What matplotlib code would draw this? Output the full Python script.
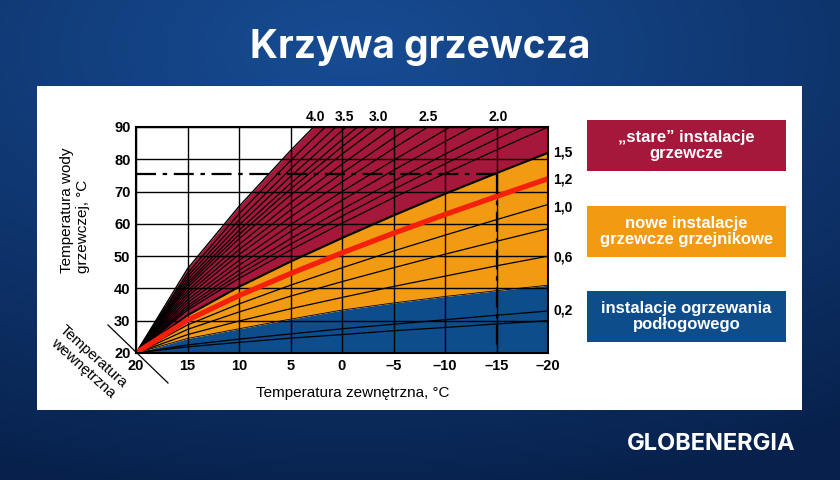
import numpy as np
import matplotlib.pyplot as plt
from matplotlib.patches import Rectangle
from matplotlib.lines import Line2D

plt.rcParams['font.family'] = ['Liberation Sans', 'DejaVu Sans']

# outside temperature (x axis), values of every curve are read at these points
t_out = [20, 15, 10, 5, 0, -5, -10, -15, -20]

# thin curves in the "old installations" zone, steepest (4.0) first
curves_old = [
    [20, 46.1, 65.4, 82.7, 99.0, 114.4, 129.2, 143.6, 157.5],
    [20, 44.7, 63.1, 79.6, 95.0, 109.7, 123.7, 137.4, 150.6],
    [20, 43.7, 61.2, 77.0, 91.8, 105.8, 119.3, 132.3, 145.0],
    [20, 42.7, 59.6, 74.7, 88.9, 102.3, 115.2, 127.8, 139.9],
    [20, 41.8, 58.0, 72.5, 86.1, 99.0, 111.4, 123.4, 135.1],
    [20, 41.1, 56.7, 70.8, 83.9, 96.4, 108.4, 120.0, 131.3],
    [20, 40.3, 55.4, 68.9, 81.6, 93.6, 105.2, 116.3, 127.2],
    [20, 39.3, 53.6, 66.5, 78.5, 90.0, 100.9, 111.6, 121.9],
    [20, 38.4, 52.0, 64.3, 75.7, 86.6, 97.1, 107.2, 117.0],
    [20, 37.5, 50.5, 62.1, 73.0, 83.4, 93.3, 103.0, 112.3],
    [20, 36.5, 48.7, 59.7, 70.0, 79.7, 89.1, 98.2, 107.0],
    [20, 35.6, 47.2, 57.6, 67.3, 76.6, 85.5, 94.1, 102.4],
    [20, 34.7, 45.6, 55.4, 64.5, 73.2, 81.6, 89.6, 97.5],
    [20, 34.0, 44.3, 53.7, 62.4, 70.7, 78.6, 86.3, 93.8],
    [20, 33.3, 43.1, 51.9, 60.2, 68.1, 75.6, 82.9, 90.0],
]
curve_15 = [20, 31.7, 40.5, 48.3, 55.6, 62.6, 69.3, 75.7, 82.0]
curve_12 = [20, 30.2, 37.8, 44.6, 51.0, 57.1, 62.9, 68.5, 74.0]
curves_new = [
    [20, 28.7, 35.2, 41.0, 46.4, 51.6, 56.5, 61.3, 66.0],
    [20, 27.3, 32.7, 37.6, 42.1, 46.4, 50.6, 54.6, 58.5],
    [20, 25.7, 29.9, 33.7, 37.2, 40.6, 43.8, 47.0, 50.0],
]
curve_04 = [20, 24.5, 27.5, 30.5, 33.3, 35.5, 37.5, 39.3, 41.0]
curves_floor = [
    [20, 22.5, 24.3, 25.9, 27.5, 28.9, 30.3, 31.7, 33.0],
    [20, 21.9, 23.3, 24.6, 25.7, 26.9, 27.9, 29.0, 30.0],
]

# design point
t_design = -15
t_supply = 75.5

top_labels = ['4.0', '3.5', '3.0', '2.5', '2.0']
top_label_x = [2.6, -0.2, -3.5, -8.35, -15.2]
right_labels = ['1,5', '1,2', '1,0', '0,6', '0,2']
right_label_y = [82.2, 73.6, 65.2, 49.7, 33.3]

legend_texts = ['\u201estare\u201d instalacje\ngrzewcze',
                'nowe instalacje\ngrzewcze grzejnikowe',
                'instalacje ogrzewania\npod\u0142ogowego']

RED = '#a5173b'
ORANGE = '#f29a12'
BLUE = '#0e4d8c'

fig = plt.figure(figsize=(8.4, 4.8), dpi=100)

# background gradient
bg = fig.add_axes([0, 0, 1, 1], zorder=-2)
yy, xx = np.mgrid[0:1:240j, 0:1:420j]
r = np.sqrt(((xx - 0.42) / 1.1) ** 2 + ((yy - 0.1) / 1.0) ** 2)
c0 = np.array([0.09, 0.30, 0.58])
c1 = np.array([0.03, 0.13, 0.30])
t = np.clip(r / 0.95, 0, 1)[..., None]
bg.imshow(c0 * (1 - t) + c1 * t, extent=[0, 1, 0, 1], aspect='auto', origin='upper')
bg.set_xlim(0, 1)
bg.set_ylim(0, 1)
bg.axis('off')
bg.add_patch(Rectangle((37 / 840, 1 - 410 / 480), 765 / 840, 324 / 480,
                       facecolor='white', edgecolor='none'))

fig.text(0.5, 1 - 47 / 480, 'Krzywa grzewcza', ha='center', va='center',
         color='white', fontsize=28, fontweight='bold', family=['Inter', 'DejaVu Sans'])
fig.text(711 / 840, 1 - 444 / 480, 'GLOBENERGIA', ha='center', va='center',
         color='white', fontsize=17, fontweight='bold', family=['Inter', 'DejaVu Sans'])

ax = fig.add_axes([136 / 840, 1 - 353 / 480, 412 / 840, 226 / 480])
ax.set_xlim(20, -20)
ax.set_ylim(20, 90)

ax.fill_between(t_out, 20, curve_04, color=BLUE, lw=0, zorder=1)
ax.fill_between(t_out, curve_04, curve_15, color=ORANGE, lw=0, zorder=1)
ax.fill_between(t_out, curve_15, curves_old[0], color=RED, lw=0, zorder=1)

for c in curves_old[1:] + curves_new + curves_floor:
    ax.plot(t_out, c, color='black', lw=0.9, zorder=3)
ax.plot(t_out, curves_old[0], color='black', lw=1.0, zorder=3)
ax.plot(t_out, curve_15, color='black', lw=1.5, zorder=3)
ax.plot(t_out, curve_04, color='black', lw=0.6, zorder=3)
ax.plot(t_out, curve_12, color='#f5200a', lw=3.8, zorder=4)

ax.set_xticks(t_out)
ax.set_xticklabels(['20', '15', '10', '5', '0', '\u20135', '\u201310', '\u201315', '\u201320'])
ax.set_yticks(range(20, 91, 10))
ax.grid(True, color='black', lw=1.0, zorder=2)
ax.set_axisbelow(False)
ax.tick_params(length=0, labelsize=10.5, pad=4)
for lab in ax.get_xticklabels() + ax.get_yticklabels():
    lab.set_fontweight('bold')
for s in ax.spines.values():
    s.set_linewidth(1.5)
    s.set_zorder(6)

ax.plot([20, t_design], [t_supply, t_supply], color='black', lw=1.6,
        ls=(0, (9, 3, 2, 3)), zorder=5)
ax.plot([t_design, t_design], [t_supply, 20], color='black', lw=1.6,
        ls=(0, (9, 3, 2, 3)), zorder=5)

for s, x in zip(top_labels, top_label_x):
    ax.text(x, 90.8, s, ha='center', va='bottom', fontsize=10, fontweight='bold')
for s, y in zip(right_labels, right_label_y):
    ax.text(-20.5, y, s, ha='left', va='center', fontsize=10, fontweight='bold')

fig.text(353 / 840, 1 - 393 / 480, 'Temperatura zewn\u0119trzna, \u00b0C',
         ha='center', va='center', fontsize=11)
fig.text(75 / 840, 1 - 273 / 480, 'Temperatura wody\ngrzewczej, \u00b0C',
         ha='center', va='bottom', rotation=90, multialignment='left', fontsize=11,
         linespacing=1.1)
fig.text(88 / 840, 1 - 362 / 480, 'Temperatura\nwewn\u0119trzna', ha='center',
         va='center', rotation=-42, fontsize=11, linespacing=1.1)
fig.add_artist(Line2D([108 / 840, 168 / 840], [1 - 325 / 480, 1 - 383 / 480],
                      color='black', lw=0.9))

box_tops = [120, 206, 291]
for txt, col, top in zip(legend_texts, [RED, ORANGE, BLUE], box_tops):
    fig.add_artist(Rectangle((587 / 840, 1 - (top + 51) / 480), 199 / 840, 51 / 480,
                             facecolor=col, edgecolor='none'))
    fig.text(686.5 / 840, 1 - (top + 25.5) / 480, txt, ha='center', va='center',
             color='white', fontsize=12, fontweight='bold', linespacing=1.1)

fig.savefig('out.png', dpi=100)
